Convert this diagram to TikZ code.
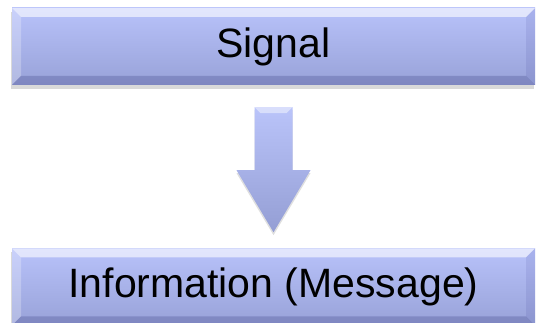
\documentclass[tikz,border=0pt]{standalone}
\usepackage{fontspec}
\setmainfont{Liberation Sans}
\usepackage{tikz}
\usetikzlibrary{positioning,shadows}

\definecolor{boxtop}{RGB}{184,194,250}
\definecolor{boxbot}{RGB}{152,162,216}
\definecolor{arrtop}{RGB}{186,196,250}
\definecolor{arrbot}{RGB}{148,158,212}

\begin{document}
\begin{tikzpicture}[
	x = 1pt, y = 1pt,
	B/.style={rectangle, minimum width=523pt, minimum height=77pt, inner sep=0pt,
		top color=boxtop, bottom color=boxbot,
		drop shadow={shadow xshift=-1pt, shadow yshift=-4pt, opacity=.3},
		font=\fontsize{41}{41}\selectfont,
		path picture={
			% bevel: top, left, right, bottom
			\fill[white, opacity=.6] (path picture bounding box.north west) -- (path picture bounding box.north east)
				-- ([shift={(-9pt,-9pt)}]path picture bounding box.north east) -- ([shift={(9pt,-9pt)}]path picture bounding box.north west) -- cycle;
			\fill[white, opacity=.25] (path picture bounding box.north west) -- ([shift={(9pt,-9pt)}]path picture bounding box.north west)
				-- ([shift={(9pt,9pt)}]path picture bounding box.south west) -- (path picture bounding box.south west) -- cycle;
			\fill[black!60!blue, opacity=.08] (path picture bounding box.north east) -- ([shift={(-9pt,-9pt)}]path picture bounding box.north east)
				-- ([shift={(-9pt,9pt)}]path picture bounding box.south east) -- (path picture bounding box.south east) -- cycle;
			\fill[black!70!blue, opacity=.17] (path picture bounding box.south west) -- ([shift={(9pt,9pt)}]path picture bounding box.south west)
				-- ([shift={(-9pt,9pt)}]path picture bounding box.south east) -- (path picture bounding box.south east) -- cycle;
		}},
	A/.style={top color=arrtop, bottom color=arrbot,
		drop shadow={shadow xshift=0pt, shadow yshift=-3pt, opacity=.25}},
	]
	\useasboundingbox (0,0) rectangle (537,323);

	% Nodes and their relative positions
	\node[B] (S) at (273.5,276.5) {Signal};
	\node[B] (I) [below = 163pt of S] {Information (Message)};

	% Block arrow between the boxes
	\coordinate (St) at ([yshift=-22pt]S.south);
	\coordinate (It) at ([yshift=16pt]I.north);
	\path[A] ([xshift=-19pt]St) -- ([xshift=19pt]St) -- ([shift={(19pt,62pt)}]It) -- ([shift={(37pt,62pt)}]It)
		-- (It) -- ([shift={(-37pt,62pt)}]It) -- ([shift={(-19pt,62pt)}]It) -- cycle;
	% highlight on the shaft top and head shoulders
	\fill[white, opacity=.45] ([xshift=-19pt]St) -- ([xshift=19pt]St) -- ([shift={(13pt,-6pt)}]St) -- ([shift={(-13pt,-6pt)}]St) -- cycle;

\end{tikzpicture}
\end{document}
